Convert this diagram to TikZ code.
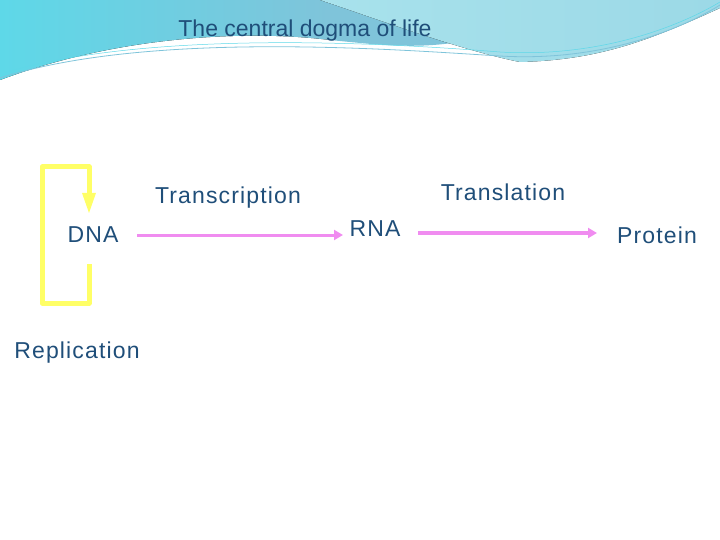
\documentclass[tikz,border=0pt]{standalone}
\usepackage{fontspec}
\setmainfont{Liberation Sans}
\usetikzlibrary{positioning,arrows.meta}
\definecolor{txtblue}{HTML}{1F4E79}
\definecolor{repyellow}{HTML}{FFFF66}
\definecolor{arrpink}{HTML}{F08CF0}
\definecolor{skyA}{HTML}{7FC4DA}
\definecolor{skyB}{HTML}{A8E2EC}
\definecolor{skyC}{HTML}{5ED8E8}
\tikzset{
  label/.style={font=\fontsize{23}{26}\selectfont\addfontfeatures{LetterSpace=5}, text=txtblue, inner sep=1pt},
  flow/.style={draw=arrpink, line width=3pt, -{Triangle[length=9pt,width=10pt]}},
  loop/.style={draw=repyellow, line width=5pt, line join=round}
}
\begin{document}
\begin{tikzpicture}[x=1pt,y=-1pt]
    \useasboundingbox (0,0) rectangle (720,540);

    % header band
    \fill[left color=skyC, right color=skyA] (0,0) -- (330,0) -- (330,40)
        .. controls (250,30) and (120,35) .. (0,80) -- cycle;
    \fill[skyA] (330,0) -- (330,40) .. controls (380,45) and (420,50) .. (470,40)
        .. controls (400,20) and (350,5) .. (330,0) -- cycle;
    \fill[left color=skyB, right color=skyB!70!skyA] (320,0) -- (720,0) -- (720,8)
        .. controls (650,40) and (600,60) .. (520,62)
        .. controls (460,50) and (380,20) .. (320,0) -- cycle;
    \draw[skyA, line width=0.8pt] (0,78) .. controls (150,30) and (400,50) .. (500,56)
        .. controls (600,62) and (680,30) .. (720,5);
    \draw[skyC, line width=0.5pt] (0,74) .. controls (150,28) and (400,44) .. (500,52)
        .. controls (600,58) and (680,26) .. (720,2);
    \node[font=\fontsize{23}{25}\selectfont, text=txtblue] (title) at (305,31) {The central dogma of life};

    % nodes
    \node[label] (dna) at (93,235) {DNA};
    \node[label] (rna) at (375,229) {RNA};
    \node[label] (protein) at (657,235) {Protein};
    \node[label] (transcr) at (228,198) {Transcription};
    \node[label] (transl) at (503,192) {Translation};
    \node[label] (repl) at (77,353) {Replication};

    % replication loop
    \coordinate (rlow) at (89,264);
    \coordinate (rtip) at (89,213);
    \draw[loop] (rlow) -- (89,303) -- (42,303) -- (42,167) -- (89,167) -- (89,196);
    \fill[repyellow] (rtip) -- (82,193) -- (96,193) -- cycle;

    % flows
    \coordinate (dnaout) at (137,235);
    \coordinate (rnain) at (343,235);
    \coordinate (rnaout) at (418,233);
    \coordinate (protin) at (597,233);
    \draw[flow] (dnaout) -- (rnain);
    \draw[flow] (rnaout) -- (protin);
\end{tikzpicture}
\end{document}
